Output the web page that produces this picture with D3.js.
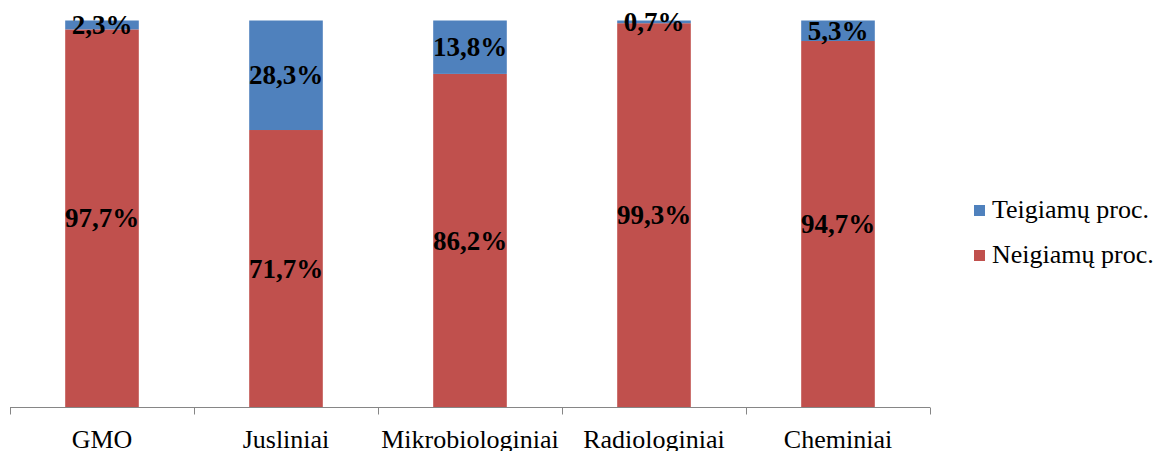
<!DOCTYPE html>
<html>
<head>
<meta charset="utf-8">
<script src="https://cdn.jsdelivr.net/npm/d3@7"></script>
<style>
  body { margin: 0; background: #fff; }
</style>
</head>
<body>
<svg id="chart" width="1158" height="451"></svg>
<script>
var categories = ["GMO", "Jusliniai", "Mikrobiologiniai", "Radiologiniai", "Cheminiai"];
var negative = [97.7, 71.7, 86.2, 99.3, 94.7];
var positive = [2.3, 28.3, 13.8, 0.7, 5.3];
var seriesNames = ["Teigiamų proc.", "Neigiamų proc."];

var FONT = "Liberation Serif";
var LEFT = 10, RIGHT = 930, TOP = 20.5, BOTTOM = 407.5;
var BLUE = "#4F81BD", RED = "#C0504D";

var svg = d3.select("#chart");

var rows = categories.map(function(c, i){
  return {cat: c, neg: negative[i], pos: positive[i]};
});

var layers = d3.stack().keys(["neg", "pos"])(rows);

var xScale = d3.scaleBand()
  .domain(categories)
  .range([LEFT, RIGHT])
  .paddingInner(0.6)
  .paddingOuter(0.3);

var yScale = d3.scaleLinear()
  .domain([0, 100])
  .range([BOTTOM, TOP]);

var colors = {neg: RED, pos: BLUE};

var fmt = function(v){ return v.toFixed(1).replace(".", ",") + "%"; };

layers.forEach(function(layer){
  svg.append("g").selectAll("rect")
    .data(layer)
    .enter().append("rect")
    .attr("x", function(d){ return xScale(d.data.cat); })
    .attr("width", xScale.bandwidth())
    .attr("y", function(d){ return yScale(d[1]); })
    .attr("height", function(d){ return yScale(d[0]) - yScale(d[1]); })
    .attr("fill", colors[layer.key]);
});

layers.forEach(function(layer){
  svg.append("g").selectAll("text")
    .data(layer)
    .enter().append("text")
    .attr("x", function(d){ return xScale(d.data.cat) + xScale.bandwidth() / 2; })
    .attr("y", function(d){ return (yScale(d[0]) + yScale(d[1])) / 2; })
    .attr("dy", "0.33em")
    .attr("text-anchor", "middle")
    .attr("font-family", FONT)
    .attr("font-size", 27)
    .attr("font-weight", "bold")
    .attr("fill", "#000")
    .text(function(d){ return fmt(d[1] - d[0]); });
});

// x axis, ticks sit between the categories
var axisG = svg.append("g");
axisG.append("line")
  .attr("x1", LEFT).attr("x2", RIGHT)
  .attr("y1", BOTTOM).attr("y2", BOTTOM)
  .attr("stroke", "#868686").attr("stroke-width", 1);

var step = xScale.step();
var tickXs = d3.range(categories.length + 1).map(function(i){
  if (i === 0) return LEFT;
  if (i === categories.length) return RIGHT;
  return xScale(categories[i]) - step * xScale.paddingInner() / 2;
});
axisG.selectAll("line.tick")
  .data(tickXs)
  .enter().append("line")
  .attr("class", "tick")
  .attr("x1", function(d){ return Math.round(d) + 0.5; })
  .attr("x2", function(d){ return Math.round(d) + 0.5; })
  .attr("y1", BOTTOM).attr("y2", BOTTOM + 7)
  .attr("stroke", "#868686");

axisG.selectAll("text")
  .data(categories)
  .enter().append("text")
  .attr("x", function(d){ return xScale(d) + xScale.bandwidth() / 2; })
  .attr("y", 448)
  .attr("text-anchor", "middle")
  .attr("font-family", FONT)
  .attr("font-size", 26)
  .attr("fill", "#000")
  .text(function(d){ return d; });

// legend
var legend = svg.append("g");
var legendColors = [BLUE, RED];
var legendY = [210, 255];
seriesNames.forEach(function(name, i){
  legend.append("rect")
    .attr("x", 974).attr("y", legendY[i] - 5)
    .attr("width", 11).attr("height", 11)
    .attr("fill", legendColors[i]);
  legend.append("text")
    .attr("x", 992).attr("y", legendY[i] + 8)
    .attr("font-family", FONT)
    .attr("font-size", 26)
    .attr("fill", "#000")
    .text(name);
});
</script>
</body>
</html>
